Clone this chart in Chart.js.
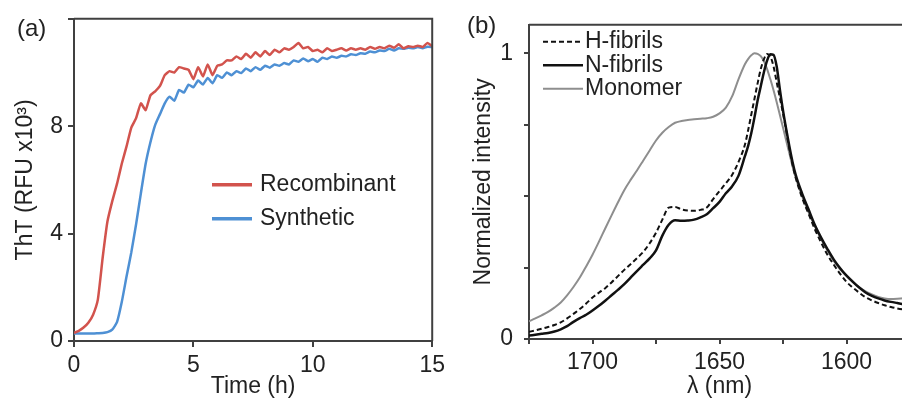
<!DOCTYPE html>
<html><head><meta charset="utf-8">
<script src="https://cdn.jsdelivr.net/npm/chart.js@4/dist/chart.umd.min.js"></script>
<style>
html,body{margin:0;padding:0;background:#fff;overflow:hidden;width:902px;height:398px;position:relative;}
#ca{position:absolute;left:0;top:0;}
#cb{position:absolute;left:450px;top:0;}
.pl{position:absolute;font-family:"Liberation Sans",Arial,sans-serif;font-size:24px;color:#222;line-height:1;}
</style></head><body>
<canvas id="ca" width="450" height="398"></canvas>
<canvas id="cb" width="470" height="398"></canvas>
<div class="pl" style="left:17px;top:16px">(a)</div>
<div class="pl" style="left:467px;top:13px">(b)</div>
<script>
// ---------- Panel (a): ThT kinetics ----------
const timeH = [0,0.2,0.4,0.6,0.8,1.0,1.2,1.4,1.6,1.8,2.0,2.2,2.4,2.6,2.8,3.0,3.2,3.4,3.6,3.8,4.0,4.2,4.4,4.6,4.8,5.0,5.2,5.4,5.6,5.8,6.0,6.2,6.4,6.6,6.8,7.0,7.2,7.4,7.6,7.8,8.0,8.2,8.4,8.6,8.8,9.0,9.2,9.4,9.6,9.8,10.0,10.2,10.4,10.6,10.8,11.0,11.2,11.4,11.6,11.8,12.0,12.2,12.4,12.6,12.8,13.0,13.2,13.4,13.6,13.8,14.0,14.2,14.4,14.6,14.8,15.0];
const recombinant = [0.30,0.38,0.50,0.68,0.98,1.55,3.1,4.45,5.2,5.85,6.6,7.25,7.95,8.3,8.85,8.6,9.15,9.3,9.5,9.9,10.05,10.0,10.2,10.15,10.1,9.75,10.2,9.85,10.3,9.9,10.25,10.3,10.45,10.45,10.6,10.5,10.7,10.55,10.75,10.6,10.8,10.65,10.85,10.75,10.9,10.85,10.95,11.1,10.9,10.95,10.8,10.85,10.75,10.9,10.8,10.85,10.9,10.82,10.9,10.85,10.9,10.85,10.95,10.88,10.95,10.9,11.0,10.92,11.05,10.9,10.98,10.95,11.0,10.95,11.1,10.98];
const synthetic = [0.28,0.28,0.28,0.28,0.28,0.29,0.30,0.33,0.42,0.7,1.45,2.4,3.3,4.35,5.5,6.6,7.4,8.05,8.45,8.85,9.1,8.95,9.35,9.25,9.55,9.45,9.7,9.55,9.8,9.6,9.9,9.8,10.0,9.9,10.05,9.98,10.15,10.05,10.2,10.1,10.25,10.18,10.3,10.25,10.35,10.3,10.45,10.4,10.52,10.42,10.5,10.4,10.55,10.5,10.6,10.55,10.62,10.6,10.68,10.65,10.72,10.7,10.78,10.75,10.82,10.8,10.88,10.82,10.9,10.88,10.92,10.9,10.95,10.9,10.96,10.95];
const xTicksA = [0,5,10,15];
const yTicksA = [0,4,8,12];
const yLabelsA = [0,4,8];

// ---------- Panel (b): spectra ----------
const wavelength = [1725,1722.5,1720,1717.5,1715,1712.5,1710,1707.5,1705,1702.5,1700,1697.5,1695,1692.5,1690,1687.5,1685,1682.5,1680,1677.5,1675,1672.5,1670,1667.5,1665,1662.5,1660,1657.5,1655,1652.5,1650,1647.5,1645,1642.5,
 1640,1638.75,1637.5,1636.25,1635,1633.75,1632.5,1631.25,1630,1628.75,1627.5,1626.25,1625,1623.75,1622.5,1621.25,1620,
 1617.5,1615,1612.5,1610,1607.5,1605,1602.5,1600,1597.5,1595,1592.5,1590,1587.5,1585,1582.5,1580,1577.5,1575];
const hFibrils = [0.025,0.03,0.036,0.042,0.049,0.058,0.072,0.088,0.105,0.124,0.145,0.162,0.178,0.198,0.22,0.242,0.262,0.283,0.305,0.335,0.372,0.418,0.46,0.462,0.454,0.45,0.449,0.452,0.46,0.49,0.518,0.545,0.575,0.62,
 0.68,0.73,0.785,0.84,0.895,0.945,0.98,0.998,0.99,0.955,0.9,0.845,0.79,0.73,0.665,0.61,0.565,
 0.495,0.44,0.385,0.338,0.295,0.26,0.228,0.2,0.18,0.162,0.146,0.135,0.126,0.118,0.112,0.107,0.103,0.1];
const nFibrils = [0.012,0.015,0.018,0.021,0.026,0.034,0.045,0.06,0.073,0.085,0.1,0.116,0.134,0.153,0.172,0.192,0.215,0.238,0.26,0.282,0.31,0.362,0.4,0.416,0.414,0.415,0.418,0.426,0.437,0.458,0.48,0.51,0.535,0.572,
 0.64,0.675,0.72,0.775,0.835,0.885,0.935,0.975,0.997,0.995,0.955,0.875,0.8,0.735,0.675,0.62,0.575,
 0.51,0.455,0.4,0.355,0.315,0.278,0.248,0.222,0.2,0.18,0.163,0.151,0.142,0.135,0.13,0.126,0.122,0.12];
const monomer = [0.062,0.072,0.083,0.095,0.11,0.128,0.153,0.182,0.215,0.254,0.295,0.34,0.387,0.433,0.478,0.521,0.557,0.59,0.625,0.66,0.695,0.722,0.742,0.757,0.763,0.767,0.769,0.771,0.773,0.778,0.79,0.81,0.85,0.91,
 0.962,0.98,0.993,1.0,0.998,0.99,0.972,0.945,0.91,0.872,0.83,0.785,0.74,0.695,0.65,0.605,0.565,
 0.5,0.445,0.395,0.35,0.31,0.273,0.244,0.222,0.201,0.181,0.167,0.156,0.147,0.142,0.14,0.141,0.143,0.146];
const xTicksB = [1725,1700,1675,1650,1625,1600,1575];
const xLabelsB = [1700,1650,1600];
const yTicksB = [0,0.25,0.5,0.75,1];
const yLabelsB = [0,1];

const FONT = '"Liberation Sans", Arial, sans-serif';
const TXT = '#222';
const AX = '#404040';
Chart.defaults.font.family = FONT;
Chart.defaults.font.size = 23;
Chart.defaults.color = TXT;

const pts = (xs, ys) => xs.map((x, i) => ({x, y: ys[i]}));

const boxPlugin = {
  id: 'box',
  afterDraw(chart, args, o) {
    const {ctx, chartArea: a} = chart;
    ctx.save();
    ctx.strokeStyle = o.color; ctx.lineWidth = o.width;
    ctx.beginPath();
    ctx.moveTo(a.left, a.top); ctx.lineTo(a.right, a.top); ctx.lineTo(a.right, a.bottom);
    ctx.stroke();
    ctx.restore();
  }
};
const legendPlugin = {
  id: 'inLegend',
  afterDatasetsDraw(chart, args, o) {
    const {ctx, chartArea: a} = chart;
    ctx.save();
    ctx.font = o.size + 'px ' + FONT;
    ctx.textBaseline = 'middle';
    ctx.textAlign = 'left';
    chart.data.datasets.forEach((ds, i) => {
      const y = a.top + o.top + i * o.gap;
      const x0 = a.left + o.left;
      ctx.beginPath();
      ctx.strokeStyle = ds.borderColor;
      ctx.lineWidth = o.lw || ds.borderWidth;
      ctx.setLineDash(ds.borderDash || []);
      ctx.moveTo(x0, y); ctx.lineTo(x0 + o.len, y); ctx.stroke();
      ctx.setLineDash([]);
      ctx.fillStyle = TXT;
      ctx.fillText(ds.label, x0 + o.len + o.textGap, y);
    });
    ctx.restore();
  }
};

function axis(opts) {
  return Object.assign({
    type: 'linear',
    grid: {drawOnChartArea: false, drawTicks: true, tickLength: 6, color: AX, lineWidth: 2},
    border: {display: true, color: AX, width: 2},
  }, opts);
}

new Chart(document.getElementById('ca'), {
  type: 'line',
  data: {datasets: [
    {label: 'Recombinant', data: pts(timeH, recombinant), borderColor: '#d2534d', borderWidth: 2.5, pointRadius: 0, tension: 0.15},
    {label: 'Synthetic', data: pts(timeH, synthetic), borderColor: '#4e90d4', borderWidth: 2.5, pointRadius: 0, tension: 0.15}
  ]},
  options: {
    responsive: false, animation: false, events: [],
    layout: {padding: {left: 0, right: 17, top: 17, bottom: 0}},
    plugins: {legend: {display: false}, tooltip: {enabled: false},
      box: {color: AX, width: 2},
      inLegend: {left: 138, top: 166, gap: 34, len: 40, textGap: 8, size: 23, lw: 3.5}},
    scales: {
      x: axis({min: 0, max: 15,
        afterBuildTicks: s => { s.ticks = xTicksA.map(v => ({value: v})); },
        afterFit: s => { s.height = 57; },
        ticks: {padding: 5, maxRotation: 0, font: {size: 23}},
        title: {display: true, text: 'Time (h)', font: {size: 23, lineHeight: 1}, padding: {top: 0, bottom: 0}}}),
      y: axis({min: 0, max: 12,
        afterBuildTicks: s => { s.ticks = yTicksA.map(v => ({value: v})); },
        afterFit: s => { s.width = 74; },
        ticks: {padding: 5, font: {size: 23}, callback: v => yLabelsA.includes(v) ? String(v) : ''},
        title: {display: true, text: 'ThT (RFU x10³)', font: {size: 23, lineHeight: 1}, padding: {top: 14, bottom: 0}}})
    }
  },
  plugins: [boxPlugin, legendPlugin]
});

new Chart(document.getElementById('cb'), {
  type: 'line',
  data: {datasets: [
    {label: 'H-fibrils', data: pts(wavelength, hFibrils), borderColor: '#111', borderWidth: 2, borderDash: [5, 3], pointRadius: 0, cubicInterpolationMode: 'monotone'},
    {label: 'N-fibrils', data: pts(wavelength, nFibrils), borderColor: '#111', borderWidth: 2.5, pointRadius: 0, cubicInterpolationMode: 'monotone'},
    {label: 'Monomer', data: pts(wavelength, monomer), borderColor: '#8e8e8e', borderWidth: 2, pointRadius: 0, cubicInterpolationMode: 'monotone'}
  ]},
  options: {
    responsive: false, animation: false, events: [],
    layout: {padding: {left: 0, right: 10, top: 13, bottom: 0}},
    plugins: {legend: {display: false}, tooltip: {enabled: false},
      box: {color: AX, width: 2},
      inLegend: {left: 14, top: 17, gap: 23.5, len: 40, textGap: 2, size: 23}},
    scales: {
      x: axis({min: 1575, max: 1725, reverse: true,
        afterBuildTicks: s => { s.ticks = xTicksB.map(v => ({value: v})); },
        afterFit: s => { s.height = 59; },
        grid: {drawOnChartArea: false, drawTicks: true, tickLength: 5, color: AX, lineWidth: 2},
        ticks: {padding: 5, maxRotation: 0, autoSkip: false, font: {size: 23}, callback: v => xLabelsB.includes(v) ? String(v) : ''},
        title: {display: true, text: 'λ (nm)', font: {size: 23, lineHeight: 1}, padding: {top: 0, bottom: 0}}}),
      y: axis({min: 0, max: 1.1,
        afterBuildTicks: s => { s.ticks = yTicksB.map(v => ({value: v})); },
        afterFit: s => { s.width = 79; },
        grid: {drawOnChartArea: false, drawTicks: true, tickLength: 5, color: AX, lineWidth: 2},
        ticks: {padding: 11, font: {size: 23}, callback: v => yLabelsB.includes(v) ? String(v) : ''},
        title: {display: true, text: 'Normalized intensity', font: {size: 23, lineHeight: 1}, padding: {top: 22, bottom: 0}}})
    }
  },
  plugins: [boxPlugin, legendPlugin]
});
</script>
</body></html>
